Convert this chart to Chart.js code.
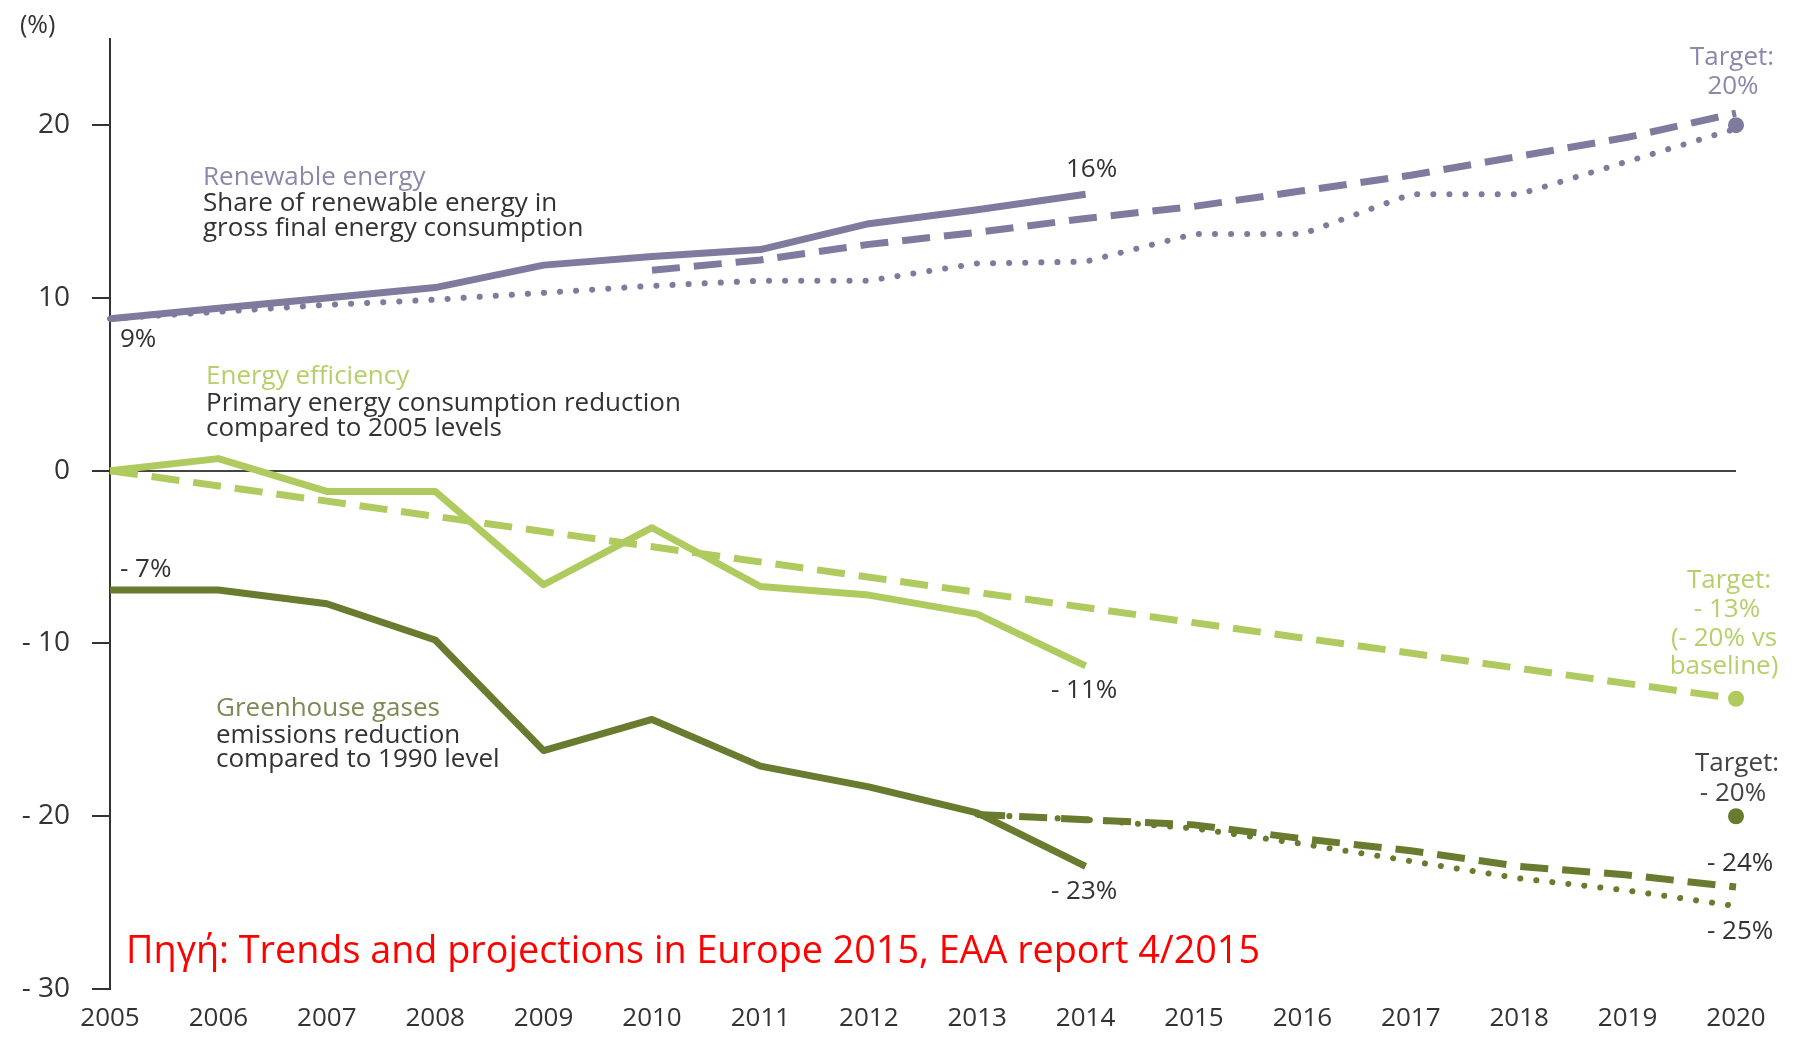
<!DOCTYPE html>
<html>
<head>
<meta charset="utf-8">
<script src="https://cdn.jsdelivr.net/npm/chart.js@4.4.1/dist/chart.umd.min.js"></script>
<style>
  html, body { margin: 0; padding: 0; background: #fff; }
  #wrap { width: 1812px; height: 1046px; position: relative; }
</style>
</head>
<body>
<div id="wrap"><canvas id="chart"></canvas></div>
<script>
const years = ['2005', '2006', '2007', '2008', '2009', '2010', '2011', '2012',
               '2013', '2014', '2015', '2016', '2017', '2018', '2019', '2020'];
const yTickValues = [-30, -20, -10, 0, 10, 20];

// Renewable energy (%)
const renewableActual   = [8.8, 9.4, 10.0, 10.6, 11.9, 12.4, 12.8, 14.3, 15.1, 16.0, null, null, null, null, null, null];
const renewableProjected = [null, null, null, null, null, 11.6, 12.2, 13.1, 13.8, 14.6, 15.3, 16.2, 17.1, 18.2, 19.3, 20.7];
const renewableTrajectory = [8.8, 9.2, 9.6, 9.9, 10.3, 10.7, 11.0, 11.0, 12.0, 12.1, 13.7, 13.7, 16.0, 16.0, 17.9, 19.8];
const renewableTarget   = [null, null, null, null, null, null, null, null, null, null, null, null, null, null, null, 20];

// Energy efficiency (%)
const efficiencyActual  = [0, 0.7, -1.2, -1.2, -6.6, -3.3, -6.7, -7.2, -8.3, -11.3, null, null, null, null, null, null];
const efficiencyPath    = [0, null, null, null, null, null, null, null, null, null, null, null, null, null, null, -13.2];
const efficiencyTarget  = [null, null, null, null, null, null, null, null, null, null, null, null, null, null, null, -13.2];

// Greenhouse gases (%)
const ghgActual         = [-6.9, -6.9, -7.7, -9.8, -16.2, -14.4, -17.1, -18.3, -19.8, -22.9, null, null, null, null, null, null];
const ghgExisting       = [null, null, null, null, null, null, null, null, -19.9, -20.2, -20.5, -21.3, -22.0, -22.9, -23.4, -24.1];
const ghgAdditional     = [null, null, null, null, null, null, null, null, -19.9, -20.2, -20.7, -21.6, -22.6, -23.6, -24.3, -25.2];
const ghgTarget         = [null, null, null, null, null, null, null, null, null, null, null, null, null, null, null, -20];

const PURPLE = '#7e7b9f';
const LIGHT_GREEN = '#afca5e';
const DARK_GREEN = '#687b2e';
const TEXT = '#333333';
const FONT = "'Open Sans', 'DejaVu Sans', sans-serif";

const solid = (data, color) => ({
    data, borderColor: color, borderWidth: 7, pointRadius: 0,
    borderJoinStyle: 'round', borderCapStyle: 'butt', tension: 0, spanGaps: false
});
const dashed = (data, color) => ({
    data, borderColor: color, borderWidth: 7, pointRadius: 0,
    borderDash: [28, 14], borderCapStyle: 'butt', tension: 0, spanGaps: true
});
const dotted = (data, color) => ({
    data, borderColor: color, borderWidth: 6, pointRadius: 0,
    borderDash: [0.1, 16], borderCapStyle: 'round', tension: 0, spanGaps: true
});
const target = (data, color) => ({
    data, borderColor: color, backgroundColor: color, showLine: false,
    pointRadius: 8, pointBorderWidth: 0
});

// text placed on the picture: [text, x, y(baseline), color, size, align]
const notes = [
    ['(%)', 20, 33, TEXT, 25, 'left'],
    ['Renewable energy', 203, 185, '#8b88aa', 26, 'left'],
    ['Share of renewable energy in', 203, 211, TEXT, 26, 'left'],
    ['gross final energy consumption', 203, 236, TEXT, 26, 'left'],
    ['9%', 120, 347, TEXT, 26, 'left'],
    ['16%', 1066, 177, TEXT, 26, 'left'],
    ['Target:', 1732, 65, '#8b88aa', 26, 'center'],
    ['20%', 1733, 94, '#8b88aa', 26, 'center'],
    ['Energy efficiency', 206, 384, '#b5d06a', 26, 'left'],
    ['Primary energy consumption reduction', 206, 411, TEXT, 26, 'left'],
    ['compared to 2005 levels', 206, 436, TEXT, 26, 'left'],
    ['- 7%', 120, 577, TEXT, 26, 'left'],
    ['- 11%', 1051, 698, TEXT, 26, 'left'],
    ['Target:', 1729, 588, '#b5d06a', 26, 'center'],
    ['- 13%', 1727, 617, '#b5d06a', 26, 'center'],
    ['(- 20% vs', 1724, 646, '#b5d06a', 26, 'center'],
    ['baseline)', 1724, 674, '#b5d06a', 26, 'center'],
    ['Greenhouse gases', 216, 716, '#7d8a55', 26, 'left'],
    ['emissions reduction', 216, 743, TEXT, 26, 'left'],
    ['compared to 1990 level', 216, 767, TEXT, 26, 'left'],
    ['- 23%', 1051, 899, TEXT, 26, 'left'],
    ['Target:', 1737, 771, '#444444', 26, 'center'],
    ['- 20%', 1733, 801, '#444444', 26, 'center'],
    ['- 24%', 1707, 871, TEXT, 26, 'left'],
    ['- 25%', 1707, 939, TEXT, 26, 'left']
];

const notesPlugin = {
    id: 'notes',
    afterDatasetsDraw(chart) {
        const ctx = chart.ctx;
        ctx.save();
        ctx.textBaseline = 'alphabetic';
        notes.forEach(([text, x, y, color, size, align]) => {
            ctx.font = size + 'px ' + FONT;
            ctx.fillStyle = color;
            ctx.textAlign = align;
            ctx.fillText(text, x, y);
        });
        ctx.font = '38px ' + FONT;
        ctx.fillStyle = '#ff0000';
        ctx.textAlign = 'left';
        ctx.fillText('Πηγή: Trends and projections in Europe 2015, EAA report 4/2015', 126, 963, 1134);
        ctx.restore();
    }
};

new Chart(document.getElementById('chart'), {
    type: 'line',
    data: {
        labels: years,
        datasets: [
            dotted(renewableTrajectory, PURPLE),
            dashed(renewableProjected, PURPLE),
            solid(renewableActual, PURPLE),
            target(renewableTarget, PURPLE),
            dashed(efficiencyPath, LIGHT_GREEN),
            solid(efficiencyActual, LIGHT_GREEN),
            target(efficiencyTarget, LIGHT_GREEN),
            dotted(ghgAdditional, DARK_GREEN),
            dashed(ghgExisting, DARK_GREEN),
            solid(ghgActual, DARK_GREEN),
            target(ghgTarget, DARK_GREEN)
        ]
    },
    options: {
        responsive: true,
        maintainAspectRatio: false,
        animation: false,
        layout: { padding: { top: 35, right: 76, bottom: 0, left: 0 } },
        plugins: { legend: { display: false }, tooltip: { enabled: false } },
        scales: {
            x: {
                offset: false,
                afterFit: scale => { scale.height = 57; },
                grid: { display: false, drawTicks: false },
                border: { display: false },
                ticks: { color: TEXT, font: { family: FONT, size: 26 }, padding: 14, maxRotation: 0, autoSkip: false }
            },
            y: {
                min: -30,
                max: 25,
                afterBuildTicks: scale => { scale.ticks = yTickValues.map(v => ({ value: v })); },
                afterFit: scale => { scale.width = 110; },
                grid: {
                    drawOnChartArea: true,
                    color: c => (c.tick && c.tick.value === 0 ? '#444444' : 'rgba(0,0,0,0)'),
                    lineWidth: 2,
                    tickLength: 18,
                    tickColor: '#333333',
                    tickWidth: 2
                },
                border: { display: true, color: '#333333', width: 2 },
                ticks: {
                    color: TEXT,
                    font: { family: FONT, size: 28 },
                    padding: 22,
                    callback: v => (v < 0 ? '- ' + Math.abs(v) : String(v))
                }
            }
        }
    },
    plugins: [notesPlugin]
});
</script>
</body>
</html>
